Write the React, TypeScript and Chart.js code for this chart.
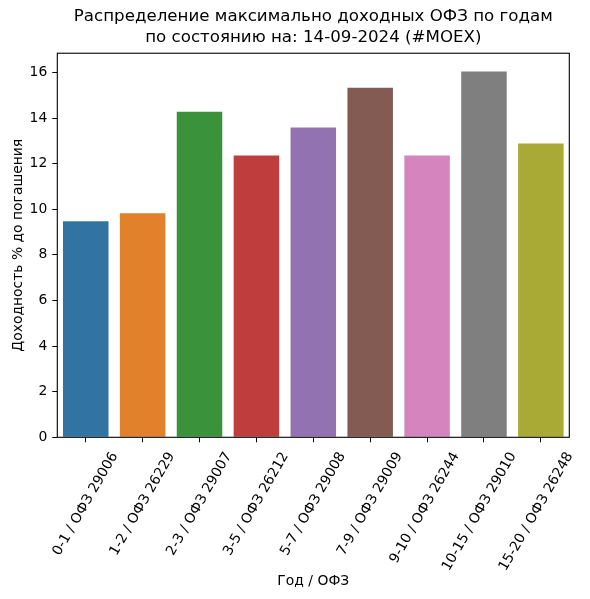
import React, { useEffect, useRef } from "react";
import { Chart, registerables } from "chart.js";

Chart.register(...registerables);

const categories = [
  "0-1 / ОФЗ 29006",
  "1-2 / ОФЗ 26229",
  "2-3 / ОФЗ 29007",
  "3-5 / ОФЗ 26212",
  "5-7 / ОФЗ 29008",
  "7-9 / ОФЗ 29009",
  "9-10 / ОФЗ 26244",
  "10-15 / ОФЗ 29010",
  "15-20 / ОФЗ 26248",
];
const yields = [9.47, 9.82, 14.28, 12.36, 13.58, 15.33, 12.36, 16.04, 12.88];
const barColors = [
  "#3274a1",
  "#e1812c",
  "#3a923a",
  "#c03d3e",
  "#9372b2",
  "#845b53",
  "#d684bd",
  "#7f7f7f",
  "#a9aa35",
];
const titleLines = [
  "Распределение максимально доходных ОФЗ по годам",
  "по состоянию на: 14-09-2024 (#MOEX)",
];

const FONT = "'DejaVu Sans', sans-serif";

// matplotlib style frame around the axes
const framePlugin = {
  id: "frame",
  afterDraw(chart: any) {
    const { ctx, chartArea } = chart;
    ctx.save();
    ctx.strokeStyle = "#000";
    ctx.lineWidth = 1.1;
    ctx.strokeRect(chartArea.left, chartArea.top, chartArea.right - chartArea.left, chartArea.bottom - chartArea.top);
    ctx.restore();
  },
};

const App: React.FC = () => {
  const chartRef = useRef<HTMLCanvasElement | null>(null);

  useEffect(() => {
    const ctx = chartRef.current?.getContext("2d");
    if (!ctx) {
      return;
    }

    const myChart = new Chart(ctx, {
      type: "bar",
      data: {
        labels: categories,
        datasets: [
          {
            data: yields,
            backgroundColor: barColors,
            borderWidth: 0,
            barPercentage: 0.8,
            categoryPercentage: 1.0,
          },
        ],
      },
      options: {
        animation: false,
        responsive: true,
        maintainAspectRatio: false,
        layout: { padding: { left: 0, right: 20.7, top: 0, bottom: 0 } },
        plugins: {
          legend: { display: false },
          tooltip: { enabled: false },
          title: {
            display: true,
            text: titleLines,
            fullSize: false,
            color: "#000",
            font: { family: FONT, size: 16.67, weight: "normal", lineHeight: 1.24 },
            padding: { top: 6.6, bottom: 5.3 },
          },
        },
        scales: {
          x: {
            offset: true,
            grid: {
              drawOnChartArea: false,
              drawTicks: true,
              tickLength: 5,
              color: "#000",
              offset: false,
            },
            border: { display: false },
            ticks: {
              autoSkip: false,
              minRotation: 60,
              maxRotation: 60,
              padding: 7,
              labelOffset: 29,
              color: "#000",
              font: { family: FONT, size: 13.9 },
            },
            title: {
              display: true,
              text: "Год / ОФЗ",
              color: "#000",
              font: { family: FONT, size: 13.9 },
              padding: { top: 0, bottom: 9 },
            },
            afterFit(scale: any) {
              scale.height = 161.7;
            },
          },
          y: {
            min: 0,
            max: 16.84,
            grid: {
              drawOnChartArea: false,
              drawTicks: true,
              tickLength: 5,
              color: "#000",
            },
            border: { display: false },
            ticks: {
              stepSize: 2,
              includeBounds: false,
              padding: 5,
              color: "#000",
              font: { family: FONT, size: 13.9 },
            },
            title: {
              display: true,
              text: "Доходность % до погашения",
              color: "#000",
              font: { family: FONT, size: 13.9 },
              padding: { top: 9.6, bottom: 0 },
            },
            afterFit(scale: any) {
              scale.width = 57.3;
            },
          },
        },
      },
      plugins: [framePlugin],
    });

    return () => {
      myChart.destroy();
    };
  }, []);

  return (
    <div style={{ position: "absolute", left: 0, top: 0, width: 590, height: 599, background: "#fff" }}>
      <canvas ref={chartRef} />
    </div>
  );
};

export default App;
